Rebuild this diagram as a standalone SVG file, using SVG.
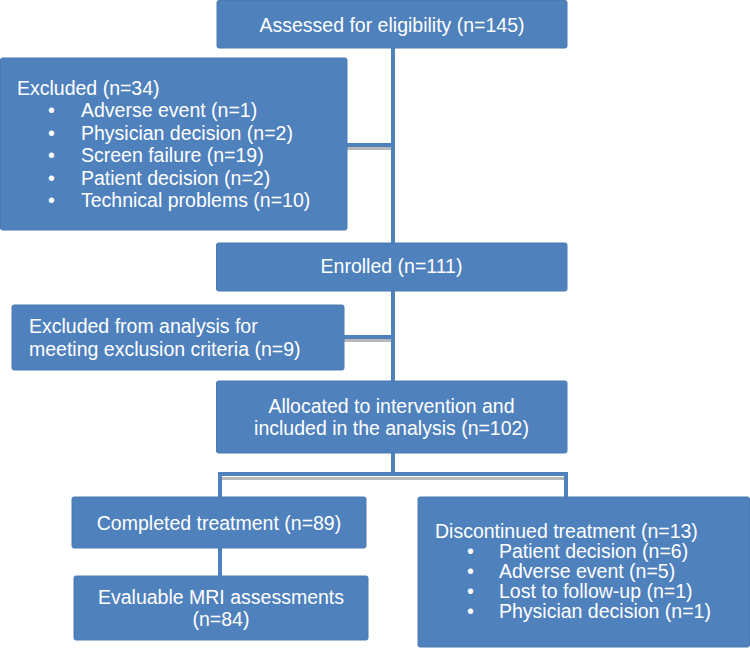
<svg xmlns="http://www.w3.org/2000/svg" width="750" height="648" viewBox="0 0 750 648">
<style>
.box{fill:#4F81BD;stroke:#4A7AB3;stroke-width:1}
.t{font-family:"Liberation Sans",Arial,sans-serif;font-size:19.5px;fill:#FFFFFF}
.c{text-anchor:middle}
.ln{stroke:#4F81BD;stroke-width:4;fill:none}
.sh{stroke:#A6A6A6;stroke-width:3;fill:none;opacity:0.8}
</style>
<rect width="750" height="648" fill="#FFFFFF"/>
<g id="connectors">
<line class="sh" x1="347" y1="148.5" x2="393" y2="148.5"/>
<line class="sh" x1="344" y1="340.5" x2="393" y2="340.5"/>
<line class="sh" x1="222" y1="478.5" x2="564" y2="478.5"/>
<line class="ln" x1="393" y1="48" x2="393" y2="381"/>
<line class="ln" x1="347" y1="145" x2="393" y2="145"/>
<line class="ln" x1="344" y1="337" x2="393" y2="337"/>
<polyline class="ln" points="393,453 393,474"/>
<polyline class="ln" points="220,497 220,474 566,474 566,497"/>
<line class="ln" x1="220" y1="548" x2="220" y2="576"/>
</g>
<g id="assessed">
<rect class="box" x="217" y="0.5" width="350" height="47.5" rx="2"/>
<text class="t c" x="392" y="32">Assessed for eligibility (n=145)</text>
</g>
<g id="excluded">
<rect class="box" x="0.5" y="58" width="346.5" height="172" rx="2"/>
<text class="t" x="17" y="95">Excluded (n=34)</text>
<text class="t" x="48" y="117">•</text><text class="t" x="81" y="117">Adverse event (n=1)</text>
<text class="t" x="48" y="139.5">•</text><text class="t" x="81" y="139.5">Physician decision (n=2)</text>
<text class="t" x="48" y="162">•</text><text class="t" x="81" y="162">Screen failure (n=19)</text>
<text class="t" x="48" y="184.5">•</text><text class="t" x="81" y="184.5">Patient decision (n=2)</text>
<text class="t" x="48" y="207">•</text><text class="t" x="81" y="207">Technical problems (n=10)</text>
</g>
<g id="enrolled">
<rect class="box" x="216.5" y="243" width="350.5" height="48" rx="2"/>
<text class="t c" x="391.5" y="273">Enrolled (n=111)</text>
</g>
<g id="excluded-analysis">
<rect class="box" x="12" y="305" width="332" height="65" rx="2"/>
<text class="t" x="29" y="333">Excluded from analysis for</text>
<text class="t" x="29" y="356">meeting exclusion criteria (n=9)</text>
</g>
<g id="allocated">
<rect class="box" x="216.5" y="381" width="350.5" height="72" rx="2"/>
<text class="t c" x="391.5" y="413">Allocated to intervention and</text>
<text class="t c" x="391.5" y="435">included in the analysis (n=102)</text>
</g>
<g id="completed">
<rect class="box" x="72" y="497" width="294" height="51" rx="2"/>
<text class="t c" x="219" y="529.5">Completed treatment (n=89)</text>
</g>
<g id="evaluable">
<rect class="box" x="74" y="576" width="294" height="64" rx="2"/>
<text class="t c" x="221" y="604">Evaluable MRI assessments</text>
<text class="t c" x="221" y="626">(n=84)</text>
</g>
<g id="discontinued">
<rect class="box" x="418" y="497" width="331.5" height="150" rx="2"/>
<text class="t" x="435" y="538">Discontinued treatment (n=13)</text>
<text class="t" x="467" y="558">•</text><text class="t" x="499" y="558">Patient decision (n=6)</text>
<text class="t" x="467" y="578">•</text><text class="t" x="499" y="578">Adverse event (n=5)</text>
<text class="t" x="467" y="598">•</text><text class="t" x="499" y="598">Lost to follow-up (n=1)</text>
<text class="t" x="467" y="618">•</text><text class="t" x="499" y="618">Physician decision (n=1)</text>
</g>
</svg>
